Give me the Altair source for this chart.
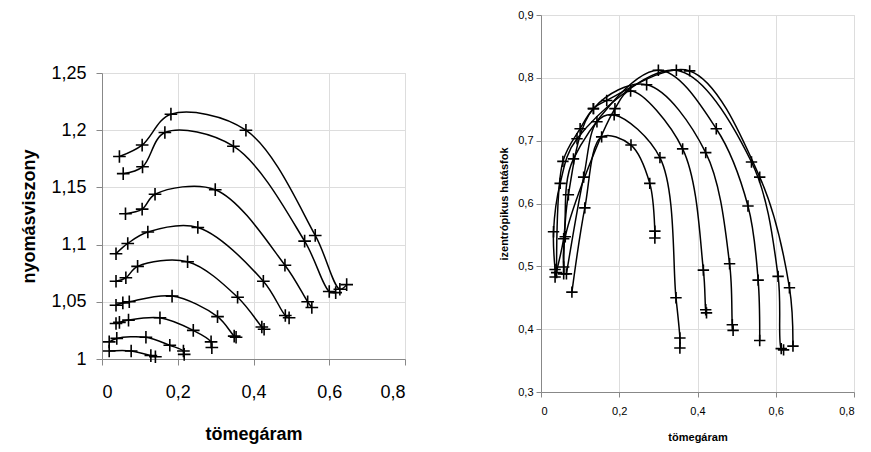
import altair as alt
import pandas as pd

# ---- left panel: nyomásviszony vs tömegáram (one list pair per speed line)
p1_x = [0.046, 0.106, 0.182, 0.380, 0.563, 0.628, 0.646]
p1_y = [1.177, 1.187, 1.214, 1.200, 1.108, 1.061, 1.065]
p2_x = [0.056, 0.107, 0.166, 0.347, 0.535, 0.600, 0.617]
p2_y = [1.162, 1.168, 1.198, 1.186, 1.103, 1.059, 1.058]
p3_x = [0.062, 0.106, 0.140, 0.299, 0.483, 0.543, 0.554]
p3_y = [1.127, 1.131, 1.144, 1.148, 1.082, 1.050, 1.045]
p4_x = [0.037, 0.068, 0.121, 0.253, 0.426, 0.484, 0.494]
p4_y = [1.092, 1.101, 1.111, 1.115, 1.068, 1.038, 1.036]
p5_x = [0.037, 0.063, 0.094, 0.226, 0.358, 0.422, 0.428]
p5_y = [1.068, 1.071, 1.081, 1.085, 1.054, 1.028, 1.026]
p6_x = [0.037, 0.055, 0.072, 0.185, 0.305, 0.349, 0.354]
p6_y = [1.047, 1.049, 1.050, 1.055, 1.037, 1.020, 1.019]
p7_x = [0.037, 0.046, 0.070, 0.153, 0.241, 0.288, 0.290]
p7_y = [1.031, 1.032, 1.034, 1.036, 1.025, 1.015, 1.010]
p8_x = [0.019, 0.039, 0.116, 0.179, 0.215, 0.217]
p8_y = [1.015, 1.018, 1.019, 1.012, 1.007, 1.004]
p9_x = [0.019, 0.077, 0.129, 0.141]
p9_y = [1.007, 1.007, 1.003, 1.002]

# ---- right panel: izentrópikus hatásfok vs tömegáram
e1_x = [0.079, 0.112, 0.155, 0.230, 0.278, 0.291, 0.291]
e1_y = [0.459, 0.593, 0.706, 0.693, 0.632, 0.556, 0.545]
e2_x = [0.065, 0.109, 0.143, 0.187, 0.304, 0.345, 0.355, 0.355]
e2_y = [0.488, 0.642, 0.730, 0.741, 0.673, 0.450, 0.386, 0.370]
e3_x = [0.058, 0.062, 0.189, 0.229, 0.362, 0.415, 0.421, 0.423]
e3_y = [0.499, 0.547, 0.751, 0.779, 0.687, 0.494, 0.431, 0.426]
e4_x = [0.058, 0.070, 0.134, 0.270, 0.421, 0.482, 0.489, 0.491]
e4_y = [0.488, 0.614, 0.751, 0.789, 0.681, 0.504, 0.407, 0.398]
e5_x = [0.036, 0.058, 0.083, 0.300, 0.448, 0.529, 0.555, 0.559]
e5_y = [0.483, 0.544, 0.671, 0.812, 0.719, 0.596, 0.478, 0.382]
e6_x = [0.036, 0.032, 0.049, 0.092, 0.346, 0.538, 0.606, 0.614, 0.620]
e6_y = [0.495, 0.555, 0.632, 0.703, 0.812, 0.666, 0.484, 0.369, 0.367]
e7_x = [0.040, 0.056, 0.100, 0.134, 0.168, 0.380, 0.559, 0.635, 0.644]
e7_y = [0.490, 0.667, 0.719, 0.751, 0.764, 0.811, 0.642, 0.466, 0.373]

x_ticks = [0, 0.2, 0.4, 0.6, 0.8]
left_y_ticks = [1, 1.05, 1.1, 1.15, 1.2, 1.25]
right_y_ticks = [0.3, 0.4, 0.5, 0.6, 0.7, 0.8, 0.9]


def frame(curves):
    rows = []
    for i, (xs, ys) in enumerate(curves):
        for j, (xv, yv) in enumerate(zip(xs, ys)):
            rows.append({"s": i, "o": j, "x": xv, "y": yv})
    return pd.DataFrame(rows)


left_df = frame([(p1_x, p1_y), (p2_x, p2_y), (p3_x, p3_y), (p4_x, p4_y), (p5_x, p5_y),
                 (p6_x, p6_y), (p7_x, p7_y), (p8_x, p8_y), (p9_x, p9_y)])
right_df = frame([(e1_x, e1_y), (e2_x, e2_y), (e3_x, e3_y), (e4_x, e4_y), (e5_x, e5_y),
                  (e6_x, e6_y), (e7_x, e7_y)])

PLUS = "M-1,0L1,0M0,-1L0,1"
FONT = "Liberation Sans"
LBL = "replace(toString(round(datum.value*100)/100), '.', ',')"


def panel(df, ydom, yvals, ytitle, w, h, lab_fs, tit_fs, tick, xlp, xtp, ylp, ytp, msize):
    xenc = alt.X("x:Q", scale=alt.Scale(domain=[0, 0.8], nice=False, zero=False),
                 axis=alt.Axis(values=x_ticks, title="tömegáram", labelExpr=LBL,
                               labelFontSize=lab_fs, titleFontSize=tit_fs, titleFontWeight="bold",
                               tickSize=tick, labelPadding=xlp, titlePadding=xtp))
    yenc = alt.Y("y:Q", scale=alt.Scale(domain=ydom, nice=False, zero=False),
                 axis=alt.Axis(values=yvals, title=ytitle, labelExpr=LBL,
                               labelFontSize=lab_fs, titleFontSize=tit_fs, titleFontWeight="bold",
                               tickSize=tick, labelPadding=ylp, titlePadding=ytp))
    base = alt.Chart(df)
    line = base.mark_line(interpolate="catmull-rom", color="black", strokeWidth=1.5).encode(
        x=xenc, y=yenc, detail="s:N", order="o:Q")
    pts = base.mark_point(shape=PLUS, size=msize, filled=False, color="black",
                          strokeWidth=1.6, opacity=1).encode(x=xenc, y=yenc)
    return alt.layer(line, pts).properties(width=w, height=h)


left = panel(left_df, [1, 1.25], left_y_ticks, "nyomásviszony", 303, 286, 18, 18, 6, 18, 24, 10, 12, 160)
right = panel(right_df, [0.3, 0.9], right_y_ticks, "izentrópikus hatásfok", 313, 377, 11, 11, 5, 8, 15, 3, 8, 130)

spacer = alt.Chart(pd.DataFrame({"a": [0]})).mark_point(opacity=0, size=0).encode(
    x=alt.value(0), y=alt.value(0)).properties(
    width=10, height=48,
    view=alt.ViewBackground(stroke="transparent", strokeWidth=0, fill="transparent"))

chart = alt.hconcat(alt.vconcat(spacer, left, spacing=0), right, spacing=92).properties(
    padding={"left": 12, "top": 0, "right": 0, "bottom": 0}
).configure_view(strokeWidth=0, stroke="transparent").configure_axis(
    grid=False, domainColor="#808080", tickColor="#808080", domainWidth=1, tickWidth=1,
    labelColor="black", titleColor="black", labelFont=FONT, titleFont=FONT
).configure(font=FONT)

chart.save("out.html", embed_options={"renderer": "svg", "actions": False})
